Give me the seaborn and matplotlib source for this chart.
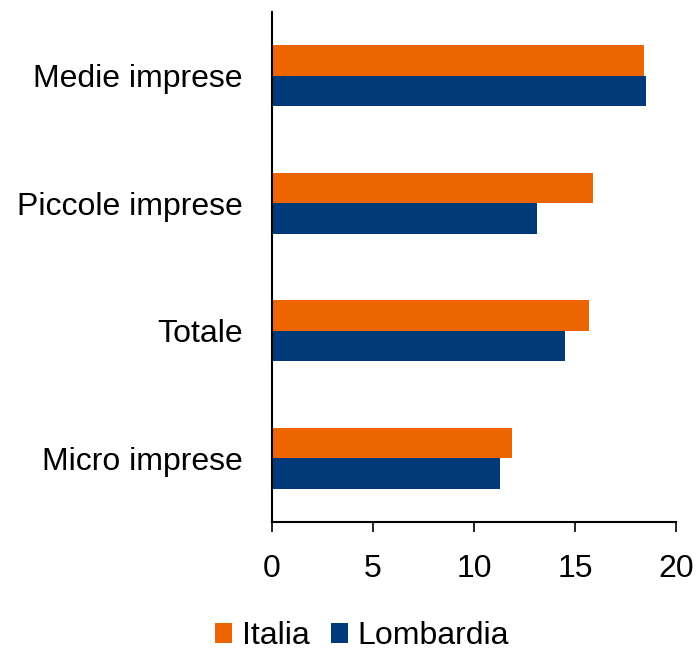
import matplotlib
matplotlib.use("Agg")
import matplotlib.pyplot as plt
import seaborn as sns
import pandas as pd

categories = ["Medie imprese", "Piccole imprese", "Totale", "Micro imprese"]
italia = [18.4, 15.9, 15.7, 11.9]
lombardia = [18.5, 13.1, 14.5, 11.3]
series = ["Italia", "Lombardia"]
colors = ["#EC6500", "#003A78"]
xticks = [0, 5, 10, 15, 20]

df = pd.DataFrame({
    "cat": categories * 2,
    "val": italia + lombardia,
    "serie": [series[0]] * len(categories) + [series[1]] * len(categories),
})

sns.set_style("white")
plt.rcParams["font.family"] = ["Liberation Sans", "DejaVu Sans"]
plt.rcParams["text.color"] = "black"
plt.rcParams["xtick.color"] = "black"
plt.rcParams["ytick.color"] = "black"

fig = plt.figure(figsize=(6.99, 6.56), dpi=100)
ax = fig.add_axes([0.389, 0.204, 0.578, 0.778])

sns.barplot(data=df, y="cat", x="val", hue="serie", order=categories,
            hue_order=series, palette=colors, orient="h", width=0.48,
            saturation=1, linewidth=0, ax=ax, legend=True)

ax.set_xlim(0, 20)
ax.set_ylim(3.5, -0.5)
ax.set_xticks(xticks)
ax.set_xticklabels([str(t) for t in xticks])
ax.set_xlabel("")
ax.set_ylabel("")
for s in ["top", "right"]:
    ax.spines[s].set_visible(False)
for s in ["left", "bottom"]:
    ax.spines[s].set_color("black")
    ax.spines[s].set_linewidth(1.5)
ax.tick_params(axis="x", direction="out", length=7, width=1.2, color="black",
               labelsize=23, labelcolor="black", pad=16, bottom=True)
ax.tick_params(axis="y", length=0, labelsize=23, labelcolor="black", pad=21)

handles, labels = ax.get_legend_handles_labels()
ax.get_legend().remove()
fig.legend(handles, labels, loc="center", bbox_to_anchor=(0.518, 0.03),
           ncol=2, frameon=False, fontsize=23, handlelength=0.55,
           handleheight=0.55, handletextpad=0.3, columnspacing=0.65,
           borderpad=0.1)

fig.savefig("out.png", dpi=100)
